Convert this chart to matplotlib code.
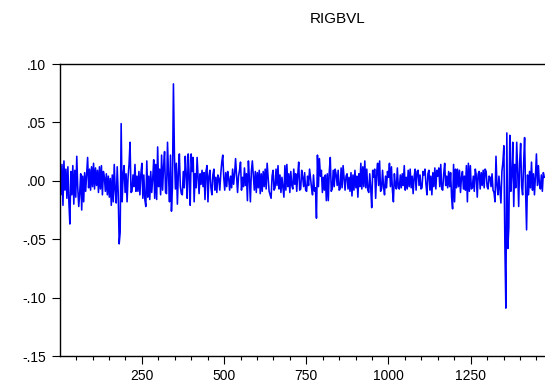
import numpy as np
import matplotlib
matplotlib.use("Agg")
import matplotlib.pyplot as plt
from matplotlib.ticker import MultipleLocator

plt.rcParams["font.family"] = ["Liberation Sans", "DejaVu Sans"]

seg1 = [
    5, -12, 14, -21, 17, -8, 10, -15, 12, -18,
    -37, 8, -12, 13, -20, 9, -14, 21, -6, -22,
    -10, 6, -25, 4, -18, 7, -9, 5, 20, -6,
    10, -8, 12, -5, 15, -7, 11, -4, 9, -10,
    12, -7, 13, -12, 8, 3, -9, 6, -12, 4, -14,
    2, -21, 5, -18, 14, -8, -19, 12, -10, -54,
    -44, 49, -18, 5, 13, -10, 6, -18, 3, 14,
    33, -10, -9, 5, -5, 14, -9, 4, -9, 8,
    -12, 6, 15, -15, 5, -16, -22, 17, -14, 4,
    -16, 8, -10, 2, 18, -15, 14,
]
seg2 = [
    -16, 29, -5, 10, -12, 22, -8, 12, 25, -10,
    -11, 33, 5, -18, 22, -26, -5, 83, 22, -7,
    15, -20, 6, 23, -5, -11, -12, 8, -6, 21,
    5, -15, 23, 4, -21, 23, 8, 20, -18, 6,
    -6, 20, 3, -11, 6, -3, 9, -5, 7, -16, 8,
    13, -18, 4, 9, -6, -12, 5, 10, -8, 3,
    -10, 5, 2, -8, 6, 16, 22, 3, -8, 7,
    -5, 8, 2, -8, 4, -6, 10, -3, 6, 19,
    5, -10, 4, 9, 16, -8, 3, -5, 11, -4,
    6, -17, 17, 2, -18, 8, 17,
]
seg3 = [
    5, -8, 8, -10, 7, -6, 9, -11, 6, -9,
    8, -5, 10, -7, 15, 3, -9, -12, -15, 4,
    9, -8, -6, 10, -4, 13, -7, 5, -10, 3,
    -6, -14, 13, -8, 14, -5, 6, -10, 8, -4,
    -7, 10, -3, 6, -9, 5, 16, -8, -7, 9, 3,
    -5, 7, -8, -9, 4, -4, 10, 2, -6, -12,
    5, -9, -6, -32, 22, -5, 19, 4, 9, -10,
    3, -8, 5, -17, 6, -17, 8, 20, -9, -7,
    9, -5, 10, 5, -4, 9, -8, -7, 11, -6,
    13, 2, -8, 4, 6, -7, 3,
]
seg4 = [
    -9, 7, -13, 5, -8, 9, -6, 4, -14, 6,
    -5, 15, -7, 12, -5, 17, -6, 10, -8, -10,
    6, -6, -23, 9, 3, 10, -15, 7, 15, -4,
    17, -9, -7, 9, -5, -12, 4, -6, 8, 3,
    15, -5, 12, -8, -18, 6, -4, -7, 11, -6, -7,
    5, -6, 6, -4, 13, -8, 3, -7, 9, -5,
    10, -6, 4, -11, 3, 10, -8, 8, 9, -4,
    5, -7, -6, 8, 5, 10, -3, -12, 6, 9,
    -8, 4, -12, 7, -5, 11, -7, 9, 4, 11,
    -5, 14, -7, -8, 6, 15, -4,
]
seg5 = [
    4, -6, 8, -5, 7, -14, -24, 14, -18, 10,
    -6, 10, -5, 9, -10, 3, 8, -7, 4, -8, 13,
    -18, 15, -9, 13, -7, -6, 4, -9, 10, 5,
    -14, 6, 8, -7, 7, -4, 9, -6, 10, 8, -5,
    -7, 4, 3, -5, 6, -8, -10, -18, 21, -4,
    -12, 4, -8, -19, 8, 16, 30, -54, -109, 41,
    -58, -40, 39, -9, 5, 33, -22, 14, -6, 33,
    8, -22, 16, 32, -5, -12, 14, 37, -8, -42,
    5, -12, 8, -6, 16, -8, 6, -12, 4, 23,
    -4, 13, -3, -7, 5, -9, 7, 3,
]

rigbvl = np.array(seg1 + seg2 + seg3 + seg4 + seg5) / 1000.0
obs = np.arange(len(rigbvl)) * 3 + 1

ytick_vals = [0.10, 0.05, 0.00, -0.05, -0.10, -0.15]
ytick_labels = [".10", ".05", ".00", "-.05", "-.10", "-.15"]
xtick_vals = [250, 500, 750, 1000, 1250]

W, H = 545, 389
fig = plt.figure(figsize=(W / 100, H / 100), dpi=100)
ax = fig.add_axes([60 / W, 1 - 356 / H, (547 - 60) / W, 292 / H])

ax.plot(obs, rigbvl, color="#0000ff", lw=1.15)

ax.set_xlim(1, 1 + (547 - 60) / 0.3288)
ax.set_ylim(-0.15, 0.10)
ax.set_yticks(ytick_vals)
ax.set_yticklabels(ytick_labels)
ax.set_xticks(xtick_vals)
ax.xaxis.set_minor_locator(MultipleLocator(50))

ax.tick_params(axis="both", which="major", direction="out", length=6,
               width=0.8, labelsize=10, color="black")
ax.tick_params(axis="x", which="minor", direction="out", length=3, width=0.8)
ax.tick_params(axis="y", pad=4)
ax.tick_params(axis="x", pad=3)
for s in ax.spines.values():
    s.set_linewidth(1.0)

fig.text(338 / W, 1 - 19 / H, "RIGBVL", ha="center", va="center", fontsize=11)

fig.savefig("out.png", dpi=100)
